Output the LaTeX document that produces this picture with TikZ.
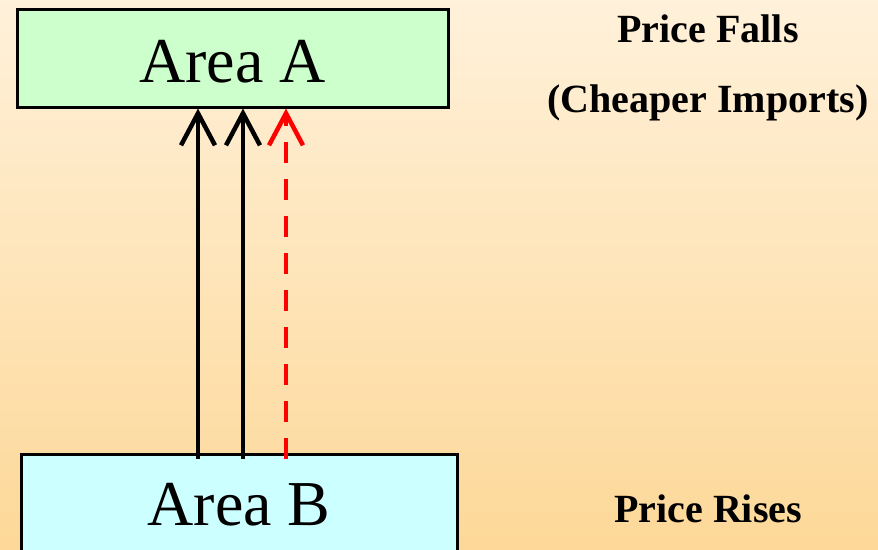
\documentclass[tikz,border=0pt]{standalone}
\usepackage{fontspec}
\setmainfont{Liberation Serif}
\usetikzlibrary{positioning, arrows.meta}

\definecolor{bgtop}{HTML}{FFF1DA}
\definecolor{bgbottom}{HTML}{FDD898}
\definecolor{areagreen}{HTML}{CCFFCC}
\definecolor{areacyan}{HTML}{CCFFFF}

\tikzset{
  areabox/.style={draw=black, line width=3pt, inner sep=0pt,
    font=\fontsize{64}{76}\selectfont},
  pricetext/.style={font=\fontsize{40}{48}\selectfont\bfseries, inner sep=0pt},
  flow/.style={line width=4.5pt, -{Straight Barb[length=32pt,width=34pt]}},
}

\begin{document}
\begin{tikzpicture}[x=1pt, y=-1pt]

\shade [top color=bgtop, bottom color=bgbottom] (0,0) rectangle (878,549);
\useasboundingbox (0,0) rectangle (878,549);

\node [areabox, fill=areagreen, minimum width=431pt, minimum height=98pt, text height=50pt] (A) at (232.5,58) {Area A};
\node [areabox, fill=areacyan, minimum width=436pt, minimum height=102pt] (B) at (239,505) {Area B};

\node [pricetext] (falls) at (708,29) {Price Falls};
\node [pricetext] (cheaper) at (708,103) {(Cheaper Imports)};
\node [pricetext] (rises) at (708,509) {Price Rises};

\coordinate (s1) at (198,459);
\coordinate (s2) at (243,459);
\coordinate (s3) at (286,459);

\draw [flow] (s1) -- (A.south -| s1);
\draw [flow] (s2) -- (A.south -| s2);
\draw [flow, red, dash pattern=on 21pt off 16pt] (s3) -- (A.south -| s3);

\end{tikzpicture}
\end{document}
